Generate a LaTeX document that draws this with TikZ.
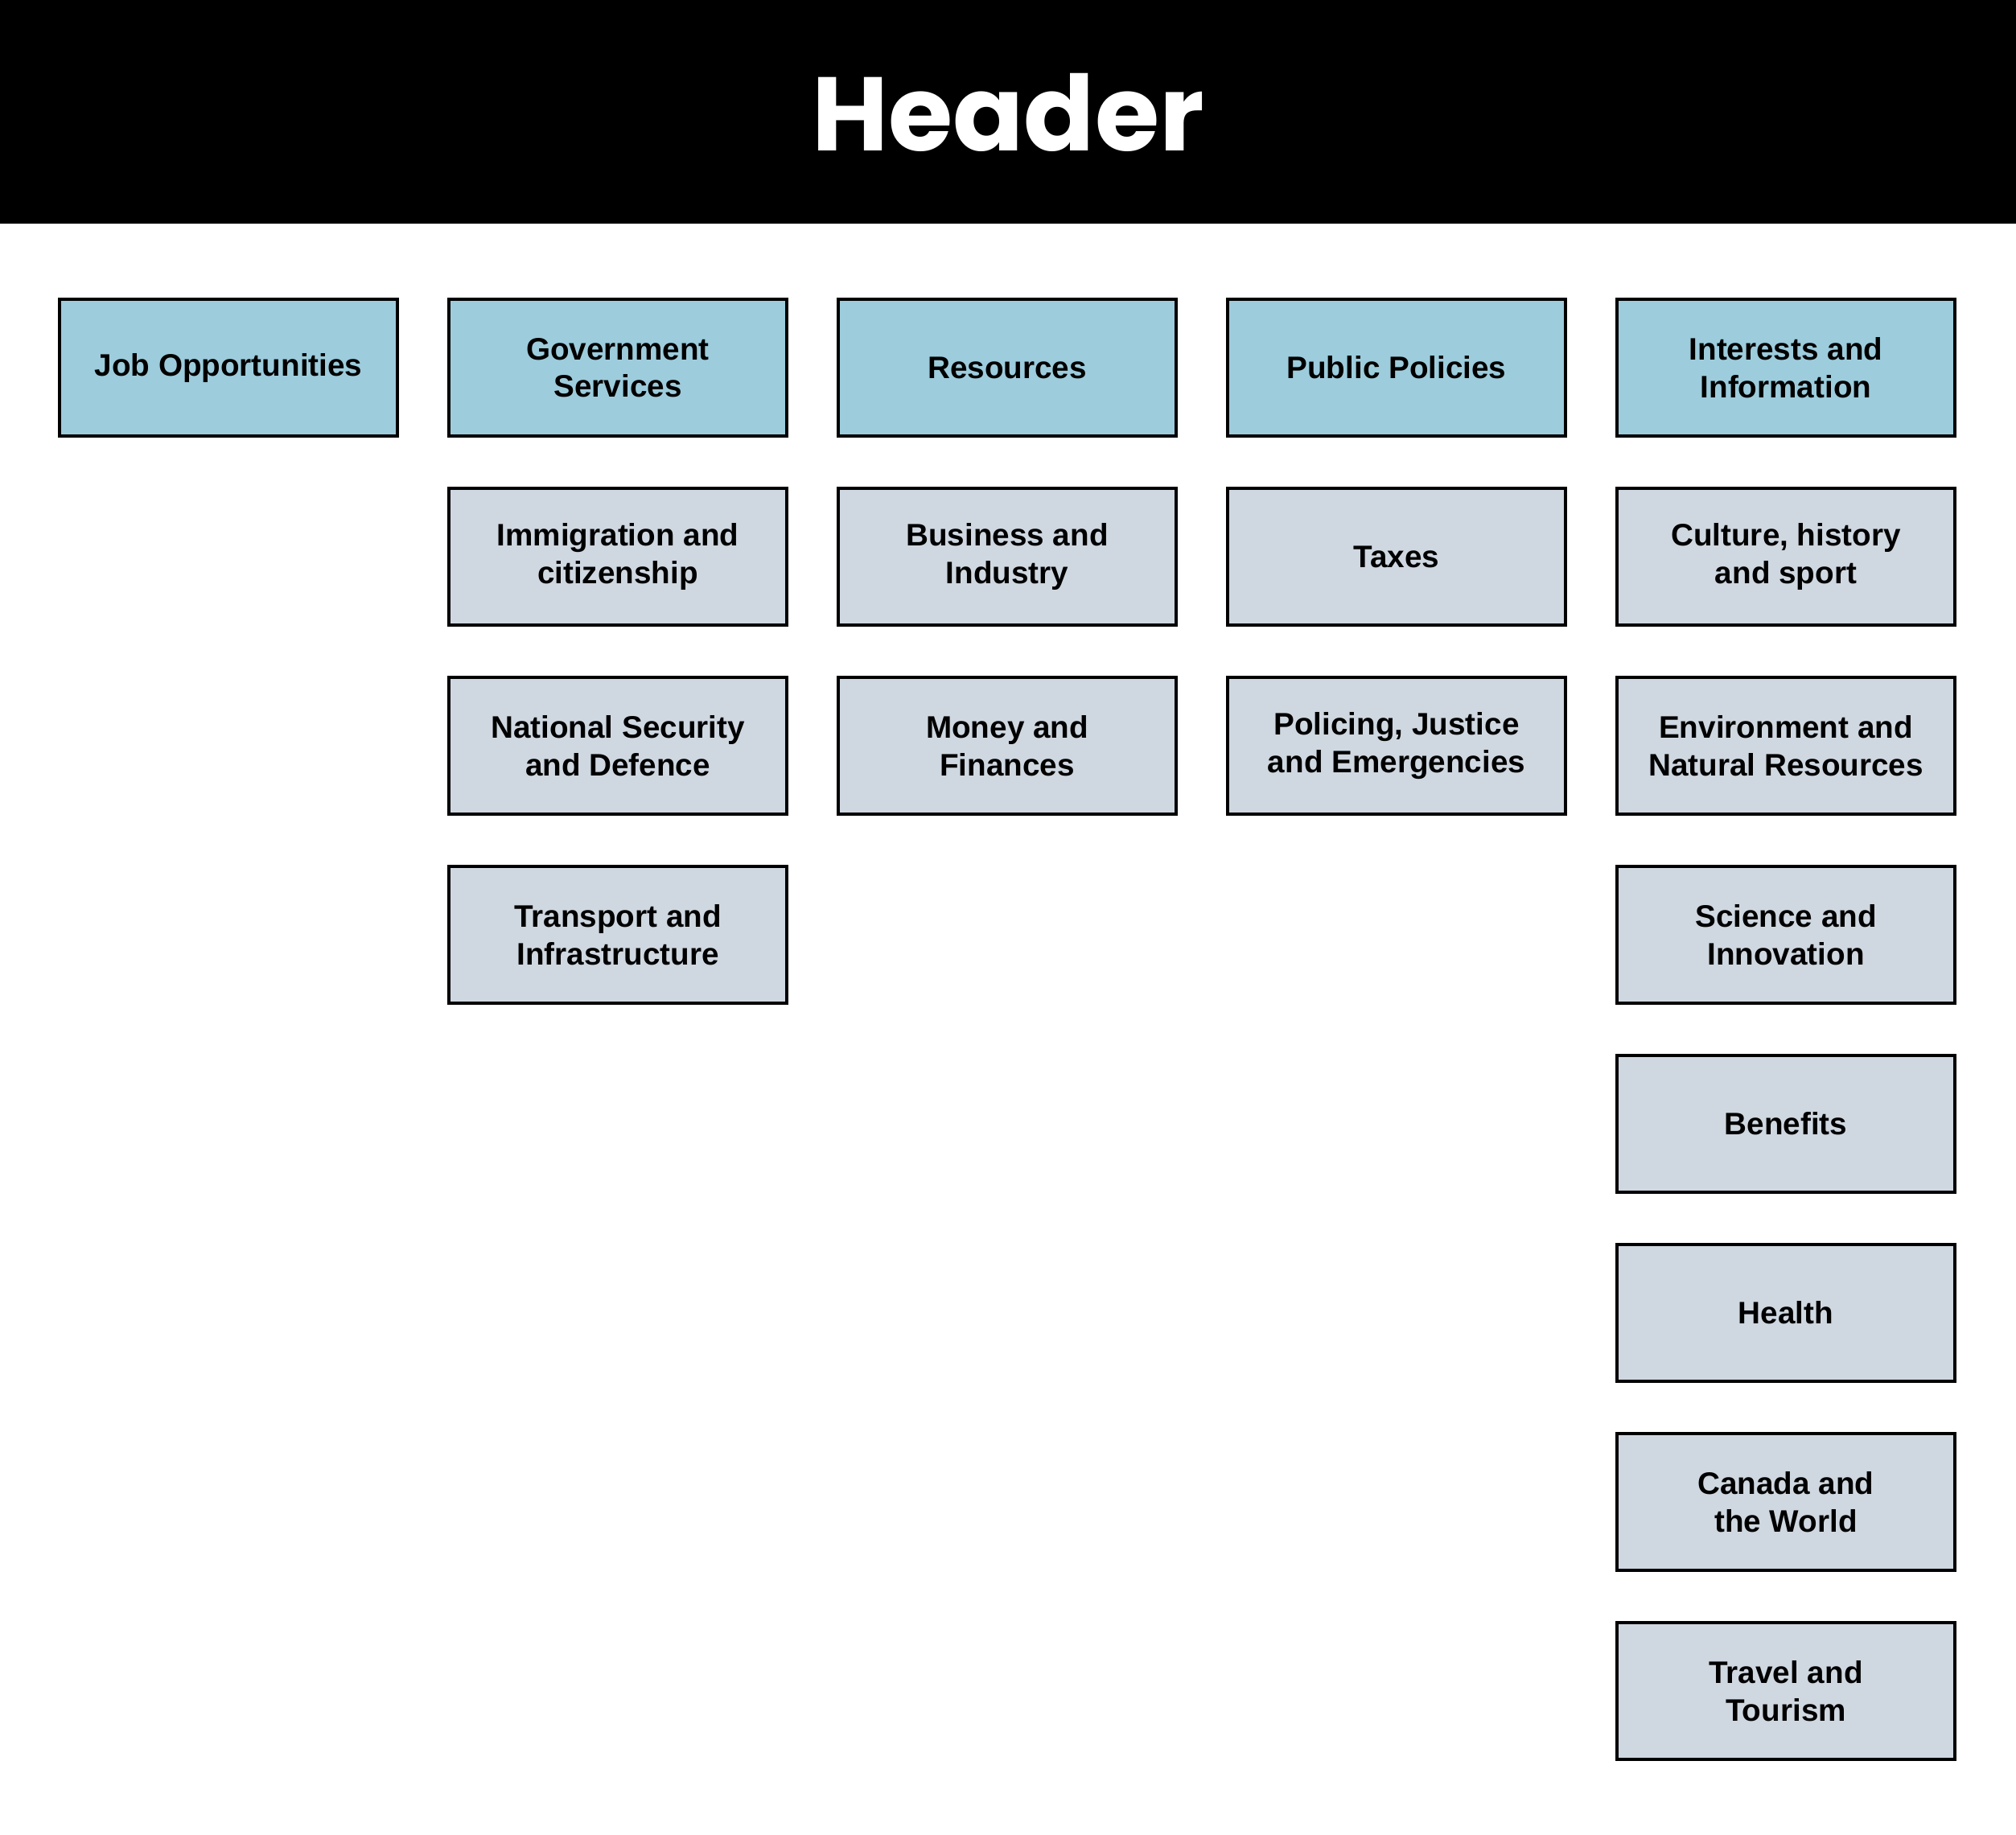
\documentclass[tikz,border=0pt]{standalone}
\usepackage{fontspec}
\setmainfont{Liberation Sans}
\newfontfamily\headfont{Poppins}
\usetikzlibrary{positioning}
\definecolor{topblue}{HTML}{9DCCDC}
\definecolor{subgray}{HTML}{CFD7E0}

\begin{document}
\begin{tikzpicture}[line width=1.2pt,
  box/.style={draw=black, minimum width=4.2cm, minimum height=1.7cm,
              align=center, inner sep=2pt, outer sep=0pt,
              font=\fontsize{11}{13.2}\selectfont\bfseries},
  topbox/.style={box, fill=topblue},
  subbox/.style={box, fill=subgray}]
  \useasboundingbox (0,0) rectangle (25.06,-22.80);
  % header band
  \fill[black] (0,0) rectangle (25.06,-2.78);
  \node[text=white, font=\headfont\bfseries\fontsize{37}{40}\selectfont] (head) at (12.53,-1.40) {Header};
  % top row
  \foreach \name/\x/\lab in {job/2.84/{Job Opportunities}, gov/7.68/{Government\\Services},
                            res/12.52/{Resources}, pol/17.36/{Public Policies},
                            info0/22.20/{Interests and\\Information}}{
    \node[topbox] (\name) at (\x,-4.57) {\lab};
  }
  % government services
  \node[subbox, below=0.65cm of gov] (imm) {Immigration and\\citizenship};
  \node[subbox, below=0.65cm of imm] (sec) {National Security\\and Defence};
  \node[subbox, below=0.65cm of sec] (trans) {Transport and\\Infrastructure};
  % resources
  \node[subbox, below=0.65cm of res] (bus) {Business and\\Industry};
  \node[subbox, below=0.65cm of bus] (money) {Money and\\Finances};
  % public policies
  \node[subbox, below=0.65cm of pol] (tax) {Taxes};
  \node[subbox, below=0.65cm of tax] (just) {Policing, Justice\\and Emergencies};
  % interests and information
  \foreach \lab [count=\i, remember=\i as \prev (initially 0)] in
      {{Culture, history\\and sport}, {Environment and\\Natural Resources},
       {Science and\\Innovation}, {Benefits}, {Health},
       {Canada and\\the World}, {Travel and\\Tourism}}{
    \node[subbox, below=0.65cm of info\prev] (info\i) {\lab};
  }
\end{tikzpicture}
\end{document}
